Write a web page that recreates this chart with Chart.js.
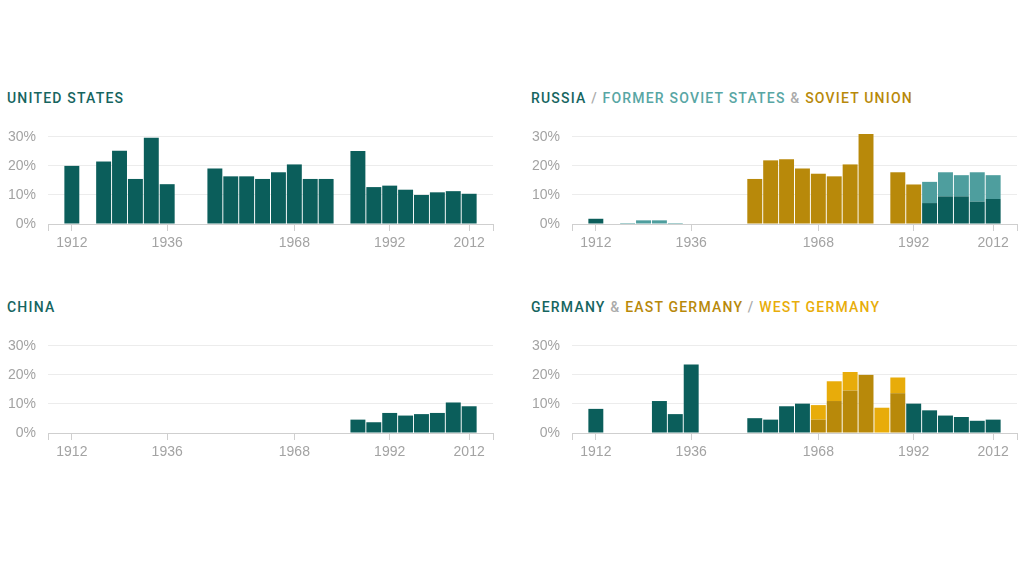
<!DOCTYPE html>
<html><head><meta charset="utf-8">
<script src="https://cdn.jsdelivr.net/npm/chart.js@4/dist/chart.umd.min.js"></script>
<style>
body{margin:0;background:#fff;width:1024px;height:575px;overflow:hidden;position:relative}
.title{position:absolute;font-family:Roboto,"Noto Sans",sans-serif;font-weight:500;font-size:14px;letter-spacing:1.2px;line-height:16px;white-space:nowrap}
.t{color:#16655f}.lt{color:#58a6a4}.gd{color:#b8890a}.yl{color:#e8ad0a}.gr{color:#ababab}
canvas{position:absolute}
</style></head><body>
<div class="title t" style="left:7px;top:90px">UNITED STATES</div>
<div class="title" style="left:531px;top:90px"><span class="t">RUSSIA</span> <span class="gr">/</span> <span class="lt">FORMER SOVIET STATES</span> <span class="gr">&amp;</span> <span class="gd">SOVIET UNION</span></div>
<div class="title t" style="left:7px;top:299px">CHINA</div>
<div class="title" style="left:531px;top:299px"><span class="t">GERMANY</span> <span class="gr">&amp;</span> <span class="gd">EAST GERMANY</span> <span class="gr">/</span> <span class="yl">WEST GERMANY</span></div>
<canvas id="cUS" width="500" height="128" style="left:0;top:126px;width:500px;height:128px"></canvas>
<canvas id="cRU" width="500" height="128" style="left:524px;top:126px;width:500px;height:128px"></canvas>
<canvas id="cCN" width="500" height="128" style="left:0;top:335px;width:500px;height:128px"></canvas>
<canvas id="cDE" width="500" height="128" style="left:524px;top:335px;width:500px;height:128px"></canvas>
<script>
const years = [1912,1920,1924,1928,1932,1936,1948,1952,1956,1960,1964,1968,1972,1976,1980,1984,1988,1992,1996,2000,2004,2008,2012];
const xTickYears = [1912,1936,1968,1992,2012];
const yTickValues = [0,10,20,30];

const unitedStates = [20.0,21.5,25.2,15.5,29.7,13.7,19.1,16.4,16.4,15.5,17.8,20.5,15.5,15.5,null,25.1,12.7,13.2,11.8,10.0,10.9,11.3,10.4];
const china = [null,null,null,null,null,null,null,null,null,null,null,null,null,null,null,4.6,3.7,6.9,6.0,6.5,6.9,10.5,9.2];
const russia = [1.8,null,null,null,null,null,null,null,null,null,null,null,null,null,null,null,null,null,7.2,9.5,9.5,7.7,8.6];
const formerSovietStates = [null,0.35,1.26,1.26,0.35,null,null,null,null,null,null,null,null,null,null,null,null,null,7.3,8.3,7.3,10.1,8.2];
const sovietUnion = [null,null,null,null,null,null,null,15.5,21.9,22.3,19.1,17.3,16.4,20.5,31.0,null,17.8,13.6,null,null,null,null,null];
const germany = [8.3,null,null,11.0,6.5,23.6,null,5.1,4.6,9.2,10.1,null,null,null,null,null,null,10.1,7.8,6.0,5.5,4.2,4.6];
const eastGermany = [null,null,null,null,null,null,null,null,null,null,null,4.6,11.0,14.6,20.0,null,13.7,null,null,null,null,null,null];
const westGermany = [null,null,null,null,null,null,null,null,null,null,null,5.0,6.8,6.4,null,8.7,5.4,null,null,null,null,null,null];

const TEAL = '#0b5e5b', LTEAL = '#4e9e9e', GOLD = '#b8890a', YELLOW = '#e8ac0a';

function pts(vals){
  return years.map((yr,i)=>({x:yr,y:vals[i]})).filter(p=>p.y!==null);
}
function ds(vals,color){
  return {data:pts(vals),backgroundColor:color,borderWidth:0,barPercentage:0.94,categoryPercentage:1};
}
const tickFont = {family:'"Liberation Sans", Arial, sans-serif', size:14};
function makeChart(id, datasets){
  new Chart(document.getElementById(id),{
    type:'bar',
    data:{datasets},
    options:{
      responsive:false,animation:false,
      layout:{autoPadding:false,padding:{top:5,right:7,left:0,bottom:0}},
      plugins:{legend:{display:false},tooltip:{enabled:false}},
      scales:{
        x:{type:'linear',min:1906,max:2018,offset:false,stacked:true,
          grid:{offset:false,drawOnChartArea:false,drawTicks:true,tickLength:7,color:'#cfcfcf'},
          border:{display:true,color:'#cfcfcf'},
          ticks:{color:'#a3a3a3',font:tickFont,padding:4,autoSkip:false,maxRotation:0,
            callback:v=>xTickYears.includes(v)?String(v):''},
          afterBuildTicks:s=>{s.ticks=[1906,...xTickYears,2018].map(v=>({value:v}));},
          afterFit:s=>{s.height=30;s.paddingLeft=0;s.paddingRight=0;}
        },
        y:{min:0,max:32,stacked:true,
          grid:{color:'#ececec',drawTicks:false},
          border:{display:false},
          ticks:{color:'#a3a3a3',font:tickFont,padding:12,callback:v=>v+'%'},
          afterBuildTicks:s=>{s.ticks=yTickValues.map(v=>({value:v}));},
          afterFit:s=>{s.width=48;s.paddingTop=0;s.paddingBottom=0;}
        }
      }
    }
  });
}
makeChart('cUS',[ds(unitedStates,TEAL)]);
makeChart('cRU',[ds(russia,TEAL),ds(formerSovietStates,LTEAL),ds(sovietUnion,GOLD)]);
makeChart('cCN',[ds(china,TEAL)]);
makeChart('cDE',[ds(germany,TEAL),ds(eastGermany,GOLD),ds(westGermany,YELLOW)]);
</script>
</body></html>
